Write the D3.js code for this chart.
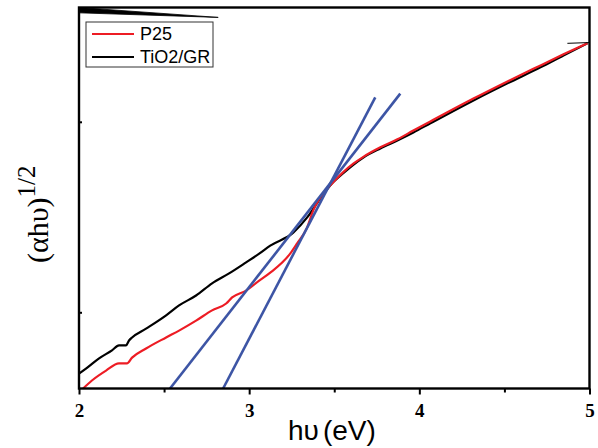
<!DOCTYPE html>
<html>
<head>
<meta charset="utf-8">
<script src="https://cdn.jsdelivr.net/npm/d3@7"></script>
<style>
  html, body { margin: 0; padding: 0; background: #fff; }
  svg { display: block; }
</style>
</head>
<body>
<svg id="chart" width="598" height="448"></svg>
<script>
// ---- data ----
const p25X = [2.024, 2.076, 2.159, 2.235, 2.282, 2.312, 2.394, 2.512, 2.588, 2.688, 2.782, 2.865, 2.9, 2.982, 3.059, 3.124, 3.241, 3.282, 3.341, 3.376, 3.435, 3.476, 3.553, 3.612, 3.671, 3.771, 3.871, 3.965, 4.065, 4.318, 4.518, 4.712, 4.847, 4.988];
const p25Y = [0.0, 0.021, 0.047, 0.066, 0.066, 0.081, 0.105, 0.134, 0.152, 0.178, 0.205, 0.223, 0.239, 0.257, 0.283, 0.304, 0.354, 0.381, 0.423, 0.467, 0.512, 0.533, 0.568, 0.590, 0.608, 0.633, 0.654, 0.677, 0.701, 0.761, 0.806, 0.848, 0.877, 0.906];

const grX = [2.0, 2.041, 2.118, 2.194, 2.235, 2.276, 2.294, 2.312, 2.394, 2.512, 2.588, 2.688, 2.782, 2.882, 2.982, 3.059, 3.124, 3.259, 3.341, 3.418, 3.476, 3.553, 3.612, 3.671, 3.771, 3.871, 3.965, 4.065, 4.318, 4.518, 4.712, 4.847, 4.988];
const grY = [0.039, 0.052, 0.079, 0.100, 0.113, 0.113, 0.126, 0.134, 0.157, 0.192, 0.218, 0.244, 0.276, 0.302, 0.331, 0.354, 0.375, 0.409, 0.449, 0.499, 0.533, 0.565, 0.587, 0.606, 0.630, 0.651, 0.672, 0.696, 0.756, 0.801, 0.843, 0.874, 0.906];

// tangent (Tauc) lines
const tangentAX = [2.535, 3.888];
const tangentAY = [0.0, 0.774];
const tangentBX = [2.847, 3.741];
const tangentBY = [0.0, 0.764];

// artefacts visible in the original plot
const wedgeX = [2.0, 2.818, 2.0];
const wedgeY = [1.0, 0.974, 0.986];
const tailX = [4.87, 5.0];
const tailY = [0.906, 0.908];

const xTicks = [2, 3, 4, 5];
const xMinorTicks = [2.5, 3.5, 4.5];
const yTicks = [0.2, 0.7];
const legendLabels = ["P25", "TiO2/GR"];

// ---- drawing ----
const svg = d3.select("#chart");
const x = d3.scaleLinear().domain([2, 5]).range([79, 589.5]);
const y = d3.scaleLinear().domain([0, 1]).range([388.5, 7.5]);

const line = d3.line().x(d => x(d[0])).y(d => y(d[1]));
const smooth = d3.line().x(d => x(d[0])).y(d => y(d[1])).curve(d3.curveMonotoneX);
const zip = (a, b) => a.map((v, i) => [v, b[i]]);

// curves
svg.append("path").datum(zip(grX, grY)).attr("d", smooth)
  .attr("fill", "none").attr("stroke", "#000").attr("stroke-width", 2.2).attr("stroke-linejoin", "round");
svg.append("path").datum(zip(p25X, p25Y)).attr("d", smooth)
  .attr("fill", "none").attr("stroke", "#ed1c24").attr("stroke-width", 2.2).attr("stroke-linejoin", "round");

// tangent lines
[[tangentAX, tangentAY], [tangentBX, tangentBY]].forEach(([tx, ty]) => {
  svg.append("path").datum(zip(tx, ty)).attr("d", line)
    .attr("fill", "none").attr("stroke", "#3d55a5").attr("stroke-width", 2.6);
});

// artefacts
svg.append("path").attr("d", line(zip(wedgeX, wedgeY)) + "Z")
  .attr("fill", "#000").attr("stroke", "#000").attr("stroke-width", 0.8);
svg.append("path").datum(zip(tailX, tailY)).attr("d", line)
  .attr("fill", "none").attr("stroke", "#000").attr("stroke-width", 1);

// frame
const [x0, x1] = x.range();
const [yb, yt] = y.range();
svg.append("rect").attr("x", x0).attr("y", yt).attr("width", x1 - x0).attr("height", yb - yt)
  .attr("fill", "none").attr("stroke", "#000").attr("stroke-width", 2.4);

// x axis ticks
const xAxis = d3.axisBottom(x).tickValues(xTicks).tickSize(6).tickFormat(d3.format("d"));
const gx = svg.append("g").attr("transform", `translate(0,${yb})`).call(xAxis);
gx.select(".domain").remove();
gx.selectAll(".tick line").attr("stroke", "#000").attr("stroke-width", 2);
gx.selectAll(".tick text")
  .attr("font-family", "'Liberation Serif', 'Times New Roman', serif")
  .attr("font-weight", "bold").attr("font-size", 19).attr("fill", "#000").attr("dy", "1.05em");
const gxm = svg.append("g").attr("transform", `translate(0,${yb})`)
  .call(d3.axisBottom(x).tickValues(xMinorTicks).tickSize(4).tickFormat(""));
gxm.select(".domain").remove();
gxm.selectAll(".tick line").attr("stroke", "#000").attr("stroke-width", 2);

// y axis ticks (inward, unlabeled)
const gy = svg.append("g").attr("transform", `translate(${x0},0)`)
  .call(d3.axisRight(y).tickValues(yTicks).tickSize(3).tickFormat(""));
gy.select(".domain").remove();
gy.selectAll(".tick line").attr("stroke", "#000").attr("stroke-width", 2);

// legend
const lg = svg.append("g");
lg.append("rect").attr("x", 86).attr("y", 22).attr("width", 127).attr("height", 45)
  .attr("fill", "#fff").attr("stroke", "#333").attr("stroke-width", 1);
const legendColors = ["#ed1c24", "#000"];
legendLabels.forEach((lab, i) => {
  const cy = 34 + i * 23;
  lg.append("line").attr("x1", 92).attr("x2", 134).attr("y1", cy).attr("y2", cy)
    .attr("stroke", legendColors[i]).attr("stroke-width", 2.2);
  lg.append("text").attr("x", 140).attr("y", cy + 6).text(lab)
    .attr("font-family", "'Liberation Sans', Arial, sans-serif").attr("font-size", 18).attr("fill", "#000");
});

// x label
const xl = svg.append("text").attr("x", 288).attr("y", 440)
  .attr("font-family", "'Liberation Sans', Arial, sans-serif").attr("font-size", 28).attr("fill", "#000");
xl.append("tspan").text("hυ");
xl.append("tspan").attr("dx", 4).text("(eV)");

// y label
const yl = svg.append("text").attr("transform", "translate(48,263) rotate(-90)")
  .attr("font-family", "'Liberation Serif', 'Times New Roman', serif").attr("font-size", 30).attr("fill", "#000");
yl.append("tspan").text("(αhυ)");
yl.append("tspan").attr("dy", -13).attr("font-size", 25).text("1/2");
</script>
</body>
</html>
